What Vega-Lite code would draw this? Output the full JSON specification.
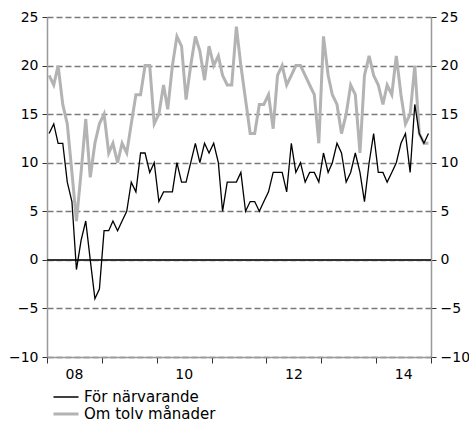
{
  "$schema": "https://vega.github.io/schema/vega-lite/v6.json",
  "width": 384,
  "height": 340,
  "autosize": {"type": "none"},
  "padding": {"left": 47, "top": 17, "right": 38, "bottom": 67},
  "background": "white",
  "config": {
    "font": "DejaVu Sans",
    "view": {"stroke": null},
    "axis": {"labelFont": "DejaVu Sans", "labelFontSize": 14, "labelColor": "#000"}
  },
  "datasets": {
    "series": [
      {"d": "2008-01-15", "now": 13, "ahead": 19},
      {"d": "2008-02-15", "now": 14, "ahead": 18},
      {"d": "2008-03-15", "now": 12, "ahead": 20},
      {"d": "2008-04-15", "now": 12, "ahead": 16},
      {"d": "2008-05-15", "now": 8, "ahead": 14},
      {"d": "2008-06-15", "now": 6, "ahead": 9},
      {"d": "2008-07-15", "now": -1, "ahead": 4},
      {"d": "2008-08-15", "now": 2, "ahead": 9},
      {"d": "2008-09-15", "now": 4, "ahead": 14.5},
      {"d": "2008-10-15", "now": 0, "ahead": 8.5},
      {"d": "2008-11-15", "now": -4, "ahead": 12},
      {"d": "2008-12-15", "now": -3, "ahead": 14},
      {"d": "2009-01-15", "now": 3, "ahead": 15},
      {"d": "2009-02-15", "now": 3, "ahead": 11},
      {"d": "2009-03-15", "now": 4, "ahead": 12},
      {"d": "2009-04-15", "now": 3, "ahead": 10},
      {"d": "2009-05-15", "now": 4, "ahead": 12},
      {"d": "2009-06-15", "now": 5, "ahead": 11},
      {"d": "2009-07-15", "now": 8, "ahead": 14},
      {"d": "2009-08-15", "now": 7, "ahead": 17},
      {"d": "2009-09-15", "now": 11, "ahead": 17},
      {"d": "2009-10-15", "now": 11, "ahead": 20},
      {"d": "2009-11-15", "now": 9, "ahead": 20},
      {"d": "2009-12-15", "now": 10, "ahead": 14},
      {"d": "2010-01-15", "now": 6, "ahead": 15},
      {"d": "2010-02-15", "now": 7, "ahead": 18},
      {"d": "2010-03-15", "now": 7, "ahead": 15.5},
      {"d": "2010-04-15", "now": 7, "ahead": 20},
      {"d": "2010-05-15", "now": 10, "ahead": 23},
      {"d": "2010-06-15", "now": 8, "ahead": 22},
      {"d": "2010-07-15", "now": 8, "ahead": 16.5},
      {"d": "2010-08-15", "now": 10, "ahead": 20},
      {"d": "2010-09-15", "now": 12, "ahead": 23},
      {"d": "2010-10-15", "now": 10, "ahead": 21.5},
      {"d": "2010-11-15", "now": 12, "ahead": 18.5},
      {"d": "2010-12-15", "now": 11, "ahead": 22},
      {"d": "2011-01-15", "now": 12, "ahead": 20},
      {"d": "2011-02-15", "now": 10, "ahead": 21},
      {"d": "2011-03-15", "now": 5, "ahead": 19},
      {"d": "2011-04-15", "now": 8, "ahead": 18},
      {"d": "2011-05-15", "now": 8, "ahead": 18},
      {"d": "2011-06-15", "now": 8, "ahead": 24},
      {"d": "2011-07-15", "now": 9, "ahead": 20},
      {"d": "2011-08-15", "now": 5, "ahead": 16.5},
      {"d": "2011-09-15", "now": 6, "ahead": 13},
      {"d": "2011-10-15", "now": 6, "ahead": 13},
      {"d": "2011-11-15", "now": 5, "ahead": 16},
      {"d": "2011-12-15", "now": 6, "ahead": 16},
      {"d": "2012-01-15", "now": 7, "ahead": 17},
      {"d": "2012-02-15", "now": 9, "ahead": 13.5},
      {"d": "2012-03-15", "now": 9, "ahead": 19},
      {"d": "2012-04-15", "now": 9, "ahead": 20},
      {"d": "2012-05-15", "now": 7, "ahead": 18},
      {"d": "2012-06-15", "now": 12, "ahead": 19},
      {"d": "2012-07-15", "now": 9, "ahead": 20},
      {"d": "2012-08-15", "now": 10, "ahead": 20},
      {"d": "2012-09-15", "now": 8, "ahead": 19},
      {"d": "2012-10-15", "now": 9, "ahead": 18},
      {"d": "2012-11-15", "now": 9, "ahead": 17},
      {"d": "2012-12-15", "now": 8, "ahead": 12},
      {"d": "2013-01-15", "now": 11, "ahead": 23},
      {"d": "2013-02-15", "now": 9, "ahead": 19},
      {"d": "2013-03-15", "now": 10, "ahead": 17},
      {"d": "2013-04-15", "now": 12, "ahead": 16},
      {"d": "2013-05-15", "now": 11, "ahead": 13},
      {"d": "2013-06-15", "now": 8, "ahead": 15},
      {"d": "2013-07-15", "now": 9, "ahead": 18},
      {"d": "2013-08-15", "now": 11, "ahead": 17},
      {"d": "2013-09-15", "now": 9, "ahead": 11},
      {"d": "2013-10-15", "now": 6, "ahead": 19},
      {"d": "2013-11-15", "now": 10, "ahead": 21},
      {"d": "2013-12-15", "now": 13, "ahead": 19},
      {"d": "2014-01-15", "now": 9, "ahead": 18},
      {"d": "2014-02-15", "now": 9, "ahead": 16},
      {"d": "2014-03-15", "now": 8, "ahead": 18},
      {"d": "2014-04-15", "now": 9, "ahead": 17},
      {"d": "2014-05-15", "now": 10, "ahead": 21},
      {"d": "2014-06-15", "now": 12, "ahead": 17},
      {"d": "2014-07-15", "now": 13, "ahead": 14},
      {"d": "2014-08-15", "now": 9, "ahead": 15},
      {"d": "2014-09-15", "now": 16, "ahead": 20},
      {"d": "2014-10-15", "now": 13, "ahead": 13},
      {"d": "2014-11-15", "now": 12, "ahead": 12},
      {"d": "2014-12-15", "now": 13, "ahead": 12}
    ]
  },
  "data": {"name": "series", "format": {"parse": {"d": "utc:'%Y-%m-%d'"}}},
  "transform": [{"fold": ["now", "ahead"], "as": ["s", "v"]}],
  "resolve": {"scale": {"y": "independent"}},
  "layer": [
    {
      "mark": {"type": "rule", "color": "#333333", "strokeWidth": 1.5},
      "encoding": {
        "y": {
          "datum": 0,
          "type": "quantitative",
          "scale": {"domain": [-10, 25], "nice": false, "zero": false},
          "axis": {
            "orient": "right",
            "values": [-10, -5, 0, 5, 10, 15, 20, 25],
            "grid": false,
            "domainColor": "#999999",
            "domainWidth": 1.5,
            "tickColor": "#333333",
            "tickSize": 5,
            "labelPadding": 4,
            "title": null
          }
        }
      }
    },
    {
      "resolve": {"scale": {"y": "shared"}},
      "encoding": {
        "x": {
          "field": "d",
          "type": "temporal",
          "scale": {"type": "utc", "domain": [{"year": 2008, "month": 1, "date": 1, "utc": true}, {"year": 2015, "month": 1, "date": 1, "utc": true}]},
          "axis": {
            "title": null,
            "values": [{"year": 2008, "utc": true}, {"year": 2009, "utc": true}, {"year": 2010, "utc": true}, {"year": 2011, "utc": true}, {"year": 2012, "utc": true}, {"year": 2013, "utc": true}, {"year": 2014, "utc": true}, {"year": 2015, "utc": true}],
            "labelExpr": "utcyear(datum.value) % 2 == 0 && utcyear(datum.value) < 2015 ? utcFormat(datum.value, '%y') : ''",
            "labelOffset": 27,
            "labelFlush": false,
            "labelOverlap": false,
            "labelPadding": 4,
            "grid": false,
            "domainColor": "#999999",
            "domainWidth": 1.5,
            "tickColor": "#333333",
            "tickSize": 6
          }
        },
        "y": {
          "field": "v",
          "type": "quantitative",
          "scale": {"domain": [-10, 25], "nice": false, "zero": false},
          "axis": {
            "orient": "left",
            "values": [-10, -5, 0, 5, 10, 15, 20, 25],
            "grid": true,
            "gridDash": [6, 3],
            "gridColor": "#7a7a7a",
            "gridWidth": 1.5,
            "domainColor": "#999999",
            "domainWidth": 1.5,
            "tickColor": "#333333",
            "tickSize": 5,
            "labelPadding": 4,
            "title": null
          }
        },
        "color": {
          "field": "s",
          "type": "nominal",
          "scale": {"domain": ["now", "ahead"], "range": ["#000000", "#b3b3b3"]},
          "legend": {
            "title": null,
            "orient": "none",
            "legendX": 5,
            "legendY": 373,
            "direction": "vertical",
            "symbolType": "stroke",
            "symbolSize": 625,
            "clipHeight": 14,
            "labelFontSize": 15,
            "labelFont": "DejaVu Sans",
            "labelColor": "#000",
            "labelOffset": 4,
            "rowPadding": 2,
            "padding": 0,
            "labelExpr": "datum.label == 'now' ? 'För närvarande' : 'Om tolv månader'"
          }
        },
        "strokeWidth": {
          "field": "s",
          "type": "nominal",
          "scale": {"domain": ["now", "ahead"], "range": [1.3, 3]}
        }
      },
      "layer": [
        {
          "transform": [{"filter": "datum.s == 'ahead'"}],
          "mark": {"type": "line", "strokeJoin": "miter"}
        },
        {
          "transform": [{"filter": "datum.s == 'now'"}],
          "mark": {"type": "line", "strokeJoin": "miter"}
        }
      ]
    }
  ]
}
